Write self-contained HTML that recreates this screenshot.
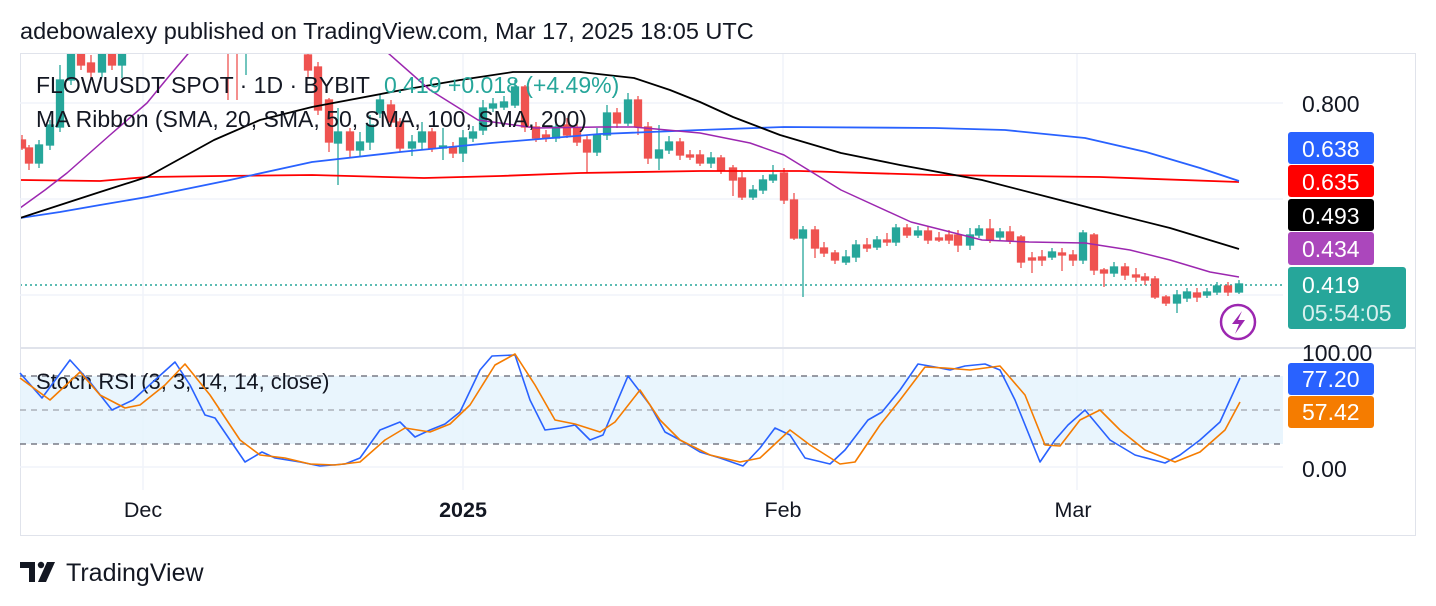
<!DOCTYPE html>
<html><head><meta charset="utf-8"><style>
body{margin:0;background:#fff;width:1436px;height:606px;overflow:hidden;font-family:"Liberation Sans",Arial,sans-serif}
svg{position:absolute;left:0;top:0}
</style></head><body>
<svg width="1436" height="606" viewBox="0 0 1436 606" font-family="Liberation Sans, Arial, sans-serif">
<text x="20" y="39" font-size="23.5" fill="#131722">adebowalexy published on TradingView.com, Mar 17, 2025 18:05 UTC</text>
<rect x="20.5" y="53.5" width="1395" height="482" fill="#fff" stroke="#e0e3eb"/>
<g stroke="#f0f3fa" stroke-width="1.5">
<line x1="20" y1="103" x2="1283" y2="103"/><line x1="20" y1="199" x2="1283" y2="199"/><line x1="20" y1="295" x2="1283" y2="295"/>
<line x1="143" y1="54" x2="143" y2="490"/><line x1="463" y1="54" x2="463" y2="490"/><line x1="783" y1="54" x2="783" y2="490"/><line x1="1077" y1="54" x2="1077" y2="490"/>
</g>
<line x1="20" y1="348" x2="1416" y2="348" stroke="#e0e3eb" stroke-width="2"/>
<rect x="20" y="376" width="1263" height="68" fill="#e3f2fd" opacity="0.8"/>
<g stroke="#787b86" stroke-width="1.5" stroke-dasharray="6,5">
<line x1="20" y1="376" x2="1283" y2="376"/><line x1="20" y1="444" x2="1283" y2="444"/>
</g>
<line x1="20" y1="410" x2="1283" y2="410" stroke="#a0a3ab" stroke-width="1.2" stroke-dasharray="6,5"/>
<line x1="20" y1="467" x2="1283" y2="467" stroke="#f0f3fa" stroke-width="1.5"/>
<clipPath id="c"><rect x="21" y="54" width="1262" height="293"/></clipPath>
<g clip-path="url(#c)">
<line x1="20" y1="285" x2="1283" y2="285" stroke="#26a69a" stroke-width="1.5" stroke-dasharray="2,3"/>
<g stroke="#26a69a" stroke-width="1.3" fill="#26a69a">
<path d="M39 140V168M50 120V150M60 65V132M71 40V85M102 45V77M122 45V78M246 40V75M338 108V185M360 132V157M370 115V150M380 95V118M412 135V156M422 122V150M443 128V160M463 130V162M473 126V142M483 100V135M493 98V112M504 96V110M515 80V108M556 118V142M597 128V156M607 105V140M628 93V126M659 125V170M669 136V154M711 152V168M753 185V200M763 175V194M773 165V183M803 226V297M846 250V265M856 240V262M877 236V250M896 224V246M918 226V238M970 228V250M979 225V238M1000 228V240M1052 248V260M1083 230V264M1114 262V277M1177 290V313M1187 288V302M1207 288V298M1217 282V295M1239 280V294"/>
<rect x="35.5" y="145" width="7" height="18"/><rect x="46.5" y="125" width="7" height="20"/><rect x="56.5" y="80" width="7" height="47"/><rect x="67.5" y="50" width="7" height="30"/><rect x="98.5" y="50" width="7" height="22"/><rect x="118.5" y="50" width="7" height="15"/>
<rect x="334.5" y="132" width="7" height="11"/><rect x="356.5" y="142" width="7" height="8"/><rect x="366.5" y="125" width="7" height="17"/><rect x="376.5" y="100" width="7" height="13"/><rect x="408.5" y="142" width="7" height="6"/><rect x="418.5" y="132" width="7" height="10"/><rect x="439.5" y="146" width="7" height="2"/><rect x="459.5" y="138" width="7" height="15"/><rect x="469.5" y="132" width="7" height="6"/><rect x="479.5" y="108" width="7" height="22"/><rect x="489.5" y="104" width="7" height="4"/><rect x="500.5" y="102" width="7" height="5"/><rect x="511.5" y="87" width="7" height="18"/><rect x="552.5" y="127" width="7" height="11"/><rect x="593.5" y="135" width="7" height="17"/><rect x="603.5" y="113" width="7" height="22"/><rect x="624.5" y="100" width="7" height="23"/><rect x="655.5" y="150" width="7" height="8"/><rect x="665.5" y="142" width="7" height="8"/><rect x="707.5" y="158" width="7" height="5"/><rect x="749.5" y="190" width="7" height="7"/><rect x="759.5" y="180" width="7" height="10"/><rect x="769.5" y="175" width="7" height="5"/><rect x="799.5" y="230" width="7" height="8"/><rect x="842.5" y="257" width="7" height="5"/><rect x="852.5" y="245" width="7" height="12"/><rect x="873.5" y="240" width="7" height="7"/><rect x="892.5" y="228" width="7" height="14"/><rect x="914.5" y="231" width="7" height="4"/><rect x="966.5" y="235" width="7" height="10"/><rect x="975.5" y="229" width="7" height="6"/><rect x="996.5" y="232" width="7" height="5"/><rect x="1048.5" y="252" width="7" height="5"/><rect x="1079.5" y="233" width="7" height="27"/><rect x="1110.5" y="267" width="7" height="6"/><rect x="1173.5" y="295" width="7" height="8"/><rect x="1183.5" y="292" width="7" height="6"/><rect x="1203.5" y="292" width="7" height="3"/><rect x="1213.5" y="286" width="7" height="6"/><rect x="1235.5" y="284" width="7" height="8"/>
</g>
<g stroke="#ef5350" stroke-width="1.3" fill="#ef5350">
<path d="M22 135V150M29 145V170M81 45V70M91 55V78M112 45V70M228 40V100M237 40V100M308 50V78M318 62V115M329 98V152M350 128V158M391 100V127M400 118V152M432 128V152M453 142V158M525 85V132M536 122V142M546 130V142M567 118V138M577 124V146M587 136V173M617 108V128M638 96V135M648 122V164M680 138V160M690 150V160M700 150V166M721 155V174M733 165V196M742 172V200M784 168V204M794 193V240M815 226V258M824 242V257M835 250V264M867 238V252M887 233V246M907 224V238M928 226V244M939 232V242M949 230V244M958 230V252M990 219V243M1010 226V244M1021 235V268M1032 252V273M1042 250V266M1062 248V271M1073 250V266M1094 233V275M1104 268V287M1125 263V280M1136 268V282M1145 273V285M1155 276V299M1166 295V306M1197 288V302M1228 282V296"/>
<rect x="18.5" y="140" width="7" height="8"/><rect x="25.5" y="148" width="7" height="15"/><rect x="77.5" y="50" width="7" height="15"/><rect x="87.5" y="63" width="7" height="9"/><rect x="108.5" y="50" width="7" height="15"/><rect x="304.5" y="55" width="7" height="15"/><rect x="314.5" y="67" width="7" height="43"/><rect x="325.5" y="100" width="7" height="42"/><rect x="346.5" y="132" width="7" height="18"/><rect x="387.5" y="105" width="7" height="17"/><rect x="396.5" y="122" width="7" height="26"/><rect x="428.5" y="132" width="7" height="16"/><rect x="449.5" y="147" width="7" height="6"/><rect x="521.5" y="87" width="7" height="40"/><rect x="532.5" y="127" width="7" height="11"/><rect x="542.5" y="135" width="7" height="3"/><rect x="563.5" y="125" width="7" height="10"/><rect x="573.5" y="128" width="7" height="14"/><rect x="583.5" y="140" width="7" height="12"/><rect x="613.5" y="113" width="7" height="10"/><rect x="634.5" y="100" width="7" height="27"/><rect x="644.5" y="127" width="7" height="31"/><rect x="676.5" y="142" width="7" height="13"/><rect x="686.5" y="155" width="7" height="2"/><rect x="696.5" y="155" width="7" height="8"/><rect x="717.5" y="158" width="7" height="12"/><rect x="729.5" y="168" width="7" height="12"/><rect x="738.5" y="178" width="7" height="19"/><rect x="780.5" y="173" width="7" height="27"/><rect x="790.5" y="200" width="7" height="38"/><rect x="811.5" y="230" width="7" height="18"/><rect x="820.5" y="248" width="7" height="5"/><rect x="831.5" y="253" width="7" height="7"/><rect x="863.5" y="245" width="7" height="3"/><rect x="883.5" y="240" width="7" height="2"/><rect x="903.5" y="228" width="7" height="7"/><rect x="924.5" y="231" width="7" height="9"/><rect x="935.5" y="238" width="7" height="2"/><rect x="945.5" y="235" width="7" height="5"/><rect x="954.5" y="235" width="7" height="10"/><rect x="986.5" y="229" width="7" height="11"/><rect x="1006.5" y="232" width="7" height="8"/><rect x="1017.5" y="237" width="7" height="25"/><rect x="1028.5" y="258" width="7" height="2"/><rect x="1038.5" y="257" width="7" height="3"/><rect x="1058.5" y="253" width="7" height="2"/><rect x="1069.5" y="255" width="7" height="5"/><rect x="1090.5" y="235" width="7" height="35"/><rect x="1100.5" y="270" width="7" height="3"/><rect x="1121.5" y="267" width="7" height="8"/><rect x="1132.5" y="275" width="7" height="2"/><rect x="1141.5" y="277" width="7" height="3"/><rect x="1151.5" y="279" width="7" height="18"/><rect x="1162.5" y="297" width="7" height="6"/><rect x="1193.5" y="293" width="7" height="4"/><rect x="1224.5" y="286" width="7" height="6"/>
</g>
<g fill="none" stroke-width="1.8" stroke-linejoin="round">
<polyline stroke="#f00" points="20,180 100,181 147,177 220,176 312,175 424,178 500,176 580,173 700,171 800,171 935,175 1100,177 1239,182"/>
<polyline stroke="#2962ff" points="20,218 60,212 100,205 147,197 230,180 312,162 400,152 491,143 600,134 700,130 784,127 935,128 1005,130 1085,138 1146,152 1200,168 1239,181"/>
<polyline stroke="#000" points="20,218 60,205 100,192 147,177 214,140 260,120 312,107 402,90 460,80 513,72 580,72 634,78 670,90 700,102 733,117 780,135 841,153 900,165 982,180 1052,198 1110,213 1170,228 1239,249"/>
<polyline stroke="#9c27b0" stroke-width="1.5" points="20,208 45,190 67,173 110,135 147,103 170,75 187,55 200,40 370,40 388,53 430,90 478,120 536,128 600,127 634,127 700,133 750,143 784,155 841,190 911,222 982,240 1029,242 1085,243 1130,250 1170,260 1210,272 1239,277"/>
</g>
</g>
<text x="36" y="93" font-size="23" fill="#131722">FLOWUSDT SPOT · 1D · BYBIT <tspan fill="#26a69a" dx="8">0.419  +0.018 (+4.49%)</tspan></text>
<text x="36" y="127" font-size="23" fill="#131722">MA Ribbon (SMA, 20, SMA, 50, SMA, 100, SMA, 200)</text>
<text x="36" y="389" font-size="22" fill="#131722">Stoch RSI (3, 3, 14, 14, close)</text>
<g fill="none" stroke-width="1.6" stroke-linejoin="round">
<polyline stroke="#2962ff" points="20,373 42,398 70,360 90,382 112,410 133,400 155,380 175,362 190,385 205,415 215,418 245,462 262,452 275,458 300,462 320,466 345,464 360,458 380,430 400,422 415,437 430,430 445,424 460,412 480,370 492,356 515,355 530,400 545,430 560,428 575,425 590,440 603,435 628,376 650,405 665,432 680,440 700,452 720,458 743,466 760,448 775,428 790,435 805,458 830,464 845,450 868,420 882,412 900,390 918,364 935,367 950,370 965,366 985,364 1000,370 1015,400 1040,462 1055,440 1068,425 1085,410 1110,440 1135,455 1165,463 1180,455 1200,440 1220,422 1240,378"/>
<polyline stroke="#f57c00" points="20,378 50,400 80,372 100,395 125,408 140,405 165,385 185,364 210,395 240,440 260,455 285,458 310,464 335,465 360,462 385,440 405,428 430,432 450,424 470,405 495,365 515,354 535,385 555,420 575,424 600,432 615,422 640,390 660,420 680,440 710,455 740,462 760,458 790,430 810,445 840,464 855,462 880,425 900,400 925,367 945,368 970,370 1000,366 1025,395 1045,445 1060,446 1080,420 1100,410 1120,430 1145,450 1175,462 1200,452 1225,430 1240,402"/>
</g>
<g font-size="23" fill="#131722">
<text x="1302" y="112">0.800</text>
<text x="1302" y="361">100.00</text>
<text x="1302" y="477">0.00</text>
</g>
<rect x="1288" y="132" width="86" height="32" rx="3" fill="#2962ff"/>
<rect x="1288" y="165" width="86" height="32" rx="3" fill="#f00"/>
<rect x="1288" y="199" width="86" height="32" rx="3" fill="#000"/>
<rect x="1288" y="232" width="86" height="33" rx="3" fill="#ab47bc"/>
<rect x="1288" y="267" width="118" height="62" rx="3" fill="#26a69a"/>
<rect x="1288" y="363" width="86" height="32" rx="3" fill="#2962ff"/>
<rect x="1288" y="396" width="86" height="32" rx="3" fill="#f57c00"/>
<g font-size="23" fill="#fff">
<text x="1302" y="157">0.638</text><text x="1302" y="190">0.635</text><text x="1302" y="224">0.493</text><text x="1302" y="257">0.434</text>
<text x="1302" y="293">0.419</text><text x="1302" y="321" fill="#d8f0ee">05:54:05</text>
<text x="1302" y="387">77.20</text><text x="1302" y="420">57.42</text>
</g>
<circle cx="1238" cy="322" r="17" fill="none" stroke="#9c27b0" stroke-width="2.5"/>
<path d="M1242 311L1232 324H1239L1235 334L1245 320H1238Z" fill="#9c27b0"/>
<g font-size="21.5" fill="#131722" text-anchor="middle">
<text x="143" y="517">Dec</text><text x="463" y="517" font-weight="bold">2025</text><text x="783" y="517">Feb</text><text x="1073" y="517">Mar</text>
</g>
<path d="M20 562H35V582H29V568H20Z" fill="#131722"/>
<circle cx="41" cy="565" r="3.2" fill="#131722"/>
<path d="M47 562H55L46 582H38Z" fill="#131722"/>
<text x="66" y="581" font-size="25" fill="#131722">TradingView</text>
</svg>
</body></html>
